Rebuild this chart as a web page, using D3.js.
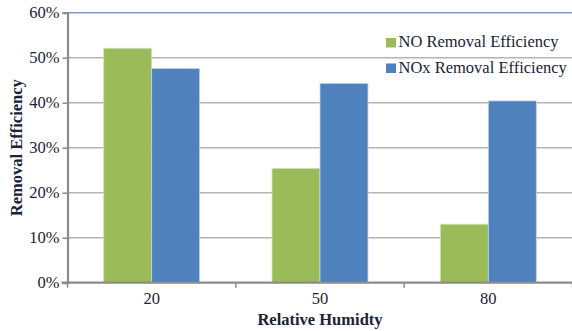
<!DOCTYPE html>
<html>
<head>
<meta charset="utf-8">
<script src="https://cdn.jsdelivr.net/npm/d3@7"></script>
<style>
  html, body { margin: 0; padding: 0; background: #fff; }
  svg { display: block; }
</style>
</head>
<body>
<svg id="chart" width="572" height="331" font-family="Liberation Serif"></svg>
<script>
// Removal efficiency by relative humidity
const categories = ["20", "50", "80"];
const seriesNames = ["NO Removal Efficiency", "NOx Removal Efficiency"];
const noValues = [0.521, 0.254, 0.130];
const noxValues = [0.476, 0.443, 0.404];
const yTicks = [0, 0.1, 0.2, 0.3, 0.4, 0.5, 0.6];
const colors = ["#9bbb59", "#4f81bd"];
const FONT = "Liberation Serif";
const TEXT_COLOR = "#1b2238";

const svg = d3.select("#chart");
const plotLeft = 67.5, plotRight = 572.5, plotTop = 12.7, plotBottom = 282.7;

const x = d3.scaleBand().domain(categories).range([plotLeft, plotRight])
  .paddingInner(0.43).paddingOuter(0.215);
const xSub = d3.scaleBand().domain(seriesNames).range([0, x.bandwidth()]);
const y = d3.scaleLinear().domain([0, 0.6]).range([plotBottom, plotTop]);

// gridlines
svg.append("g").selectAll("line").data(yTicks.filter(d => d > 0)).join("line")
  .attr("x1", plotLeft).attr("x2", plotRight)
  .attr("y1", d => y(d)).attr("y2", d => y(d))
  .attr("stroke", d => d === 0.6 ? "#7f9cc4" : "#b4b4b4")
  .attr("stroke-width", 1.5);

// bars
const rows = categories.map((c, i) => ({ cat: c, vals: [noValues[i], noxValues[i]] }));
const groups = svg.append("g").selectAll("g").data(rows).join("g")
  .attr("transform", d => `translate(${x(d.cat)},0)`);
groups.selectAll("rect").data(d => d.vals.map((v, j) => ({ v, name: seriesNames[j], j })))
  .join("rect")
  .attr("x", d => xSub(d.name))
  .attr("width", xSub.bandwidth())
  .attr("y", d => y(d.v))
  .attr("height", d => y(0) - y(d.v))
  .attr("fill", d => colors[d.j])
  .attr("stroke", d => d.j === 0 ? "#d3e2b8" : "#c3d4ea")
  .attr("stroke-width", 0.8);

// y axis
const yAxis = d3.axisLeft(y).tickValues(yTicks).tickFormat(d3.format(".0%"))
  .tickSize(5).tickPadding(3);
const gy = svg.append("g").attr("transform", `translate(${plotLeft},0)`).call(yAxis)
  .attr("font-family", FONT).attr("font-size", 16.5);
gy.select(".domain").attr("stroke", "#8c8c8c").attr("stroke-width", 2.2);
gy.selectAll(".tick line").attr("stroke", "#8c8c8c").attr("stroke-width", 1.5);
gy.selectAll(".tick text").attr("fill", TEXT_COLOR);

// x axis
const gx = svg.append("g").attr("transform", `translate(0,${plotBottom})`);
gx.append("line").attr("x1", plotLeft - 6).attr("x2", plotRight)
  .attr("stroke", "#8c8c8c").attr("stroke-width", 2.2);
const boundaries = [plotLeft].concat(categories.map(c => x(c) + x.bandwidth() + x.step() * x.paddingInner() / 2));
gx.selectAll("line.tk").data(boundaries).join("line").attr("class", "tk")
  .attr("x1", d => d).attr("x2", d => d).attr("y1", 0).attr("y2", 5)
  .attr("stroke", "#8c8c8c").attr("stroke-width", 1.5);
gx.selectAll("text").data(categories).join("text")
  .attr("x", d => x(d) + x.bandwidth() / 2).attr("y", 21)
  .attr("text-anchor", "middle").attr("font-family", FONT).attr("font-size", 16.5)
  .attr("fill", TEXT_COLOR).text(d => d);

// axis titles
svg.append("text").attr("x", 320).attr("y", 325).attr("text-anchor", "middle")
  .attr("font-family", FONT).attr("font-size", 16.5).attr("font-weight", "bold")
  .attr("fill", TEXT_COLOR).text("Relative Humidty");
svg.append("text").attr("transform", `translate(22,${(plotTop + plotBottom) / 2}) rotate(-90)`)
  .attr("text-anchor", "middle").attr("font-family", FONT).attr("font-size", 16.5)
  .attr("font-weight", "bold").attr("fill", TEXT_COLOR).text("Removal Efficiency");

// legend
const legend = svg.append("g").selectAll("g").data(seriesNames).join("g")
  .attr("transform", (d, i) => `translate(386,${38 + i * 25.5})`);
legend.append("rect").attr("width", 10).attr("height", 9.5).attr("fill", (d, i) => colors[i]);
legend.append("text").attr("x", 12.5).attr("y", 9.2).attr("font-family", FONT)
  .attr("font-size", 16.5).attr("fill", TEXT_COLOR).text(d => d);
</script>
</body>
</html>
